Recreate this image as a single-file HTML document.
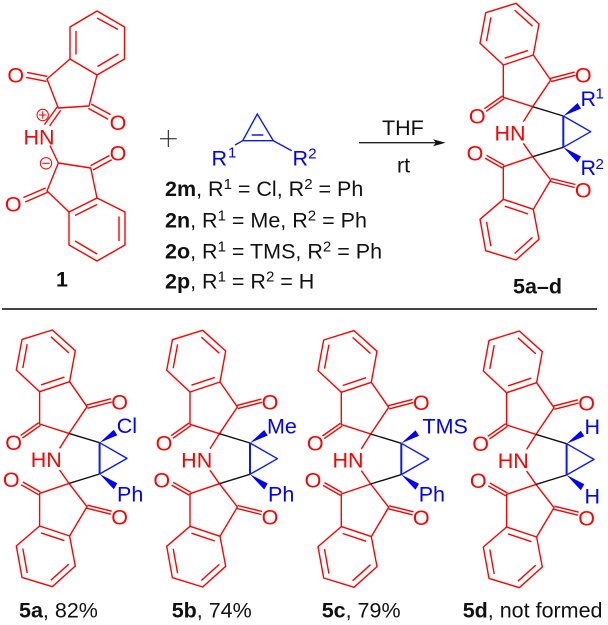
<!DOCTYPE html>
<html><head><meta charset="utf-8">
<style>
html,body{margin:0;padding:0;background:#fff}
svg{display:block}
text{font-family:"Liberation Sans",sans-serif;font-size:21.5px}
.r{fill:#f00}.b{fill:#00f}.k{fill:#111}.bd{font-weight:bold}
.o{fill:#f00;font-size:21.5px;text-anchor:middle}
.s{font-size:15px}
</style></head>
<body>
<svg width="608" height="625" viewBox="0 0 608 625" xmlns="http://www.w3.org/2000/svg">
<defs>
<g id="sk" fill="none" stroke-width="1.4" stroke-linejoin="round">
 <g stroke="#f00">
  <path d="M516 3.3L539 24L533.3 55L503.3 65L480 43.3L485.7 12.7Z"/>
  <path d="M514.6 10.1L532.5 26.2M528.1 50.4L504.7 58.2M486.5 41.3L490.9 17.4"/>
  <path d="M533.3 55L550.7 80L532.7 106.7L503.3 97.3L503.3 65"/>
  <path d="M532.7 106.7L523.3 121.7M523.3 143.3L532.7 156.7"/>
  <path d="M532.7 156.7L550.7 180L533.3 209.3L503.3 199.3L503.3 166.7Z"/>
  <path d="M533.3 209.3L539 239.3L516 260L485.7 250.7L480 219.3L503.3 199.3"/>
  <path d="M528.1 214L504.7 206.2M532.5 237.4L514.6 253.5M490.9 246.3L486.5 221.8"/>
  <path d="M550.3 78.4L574.6 72.1M551.1 81.6L575.4 75.3"/>
  <path d="M502.4 96L484.4 108.7M504.2 98.6L486.2 111.3"/>
  <path d="M504.1 165.3L486.5 155.3M502.5 168.1L484.9 158.1"/>
  <path d="M550.3 181.5L574.6 187.5M551.1 178.5L575.4 184.5"/>
 </g>
 <path stroke="#111" d="M532.7 106.7L563.3 116M532.7 156.7L563.3 147.3"/>
 <path stroke="#0a1aff" d="M563.3 116L590.7 131.7L563.3 147.3"/>
 <path stroke="#0a1aff" stroke-width="2" d="M563.3 116V147.3"/>
 <path stroke="none" fill="#00f" d="M563.3 116L577.5 103L581 108.5ZM563.3 147.3L581 156.5L577.5 162.5Z"/>
</g>
<g id="ol">
 <text class="o" x="583.3" y="82.7">O</text>
 <text class="o" x="477.3" y="123.4">O</text>
 <text class="o" x="475" y="160.4">O</text>
 <text class="o" x="583.3" y="197.7">O</text>
 <text class="o" x="510" y="140.4">HN</text>
</g>
</defs>

<!-- compound 1 -->
<g fill="none" stroke="#f00" stroke-width="1.4" stroke-linejoin="round">
 <path d="M97 11L124.5 27L124.5 59L97 75L70 59L70 27Z"/>
 <path d="M97 18L118 29.5M118.5 54L97.5 66.5M76 54.5L76 31"/>
 <path d="M70 59L47 79L58.3 108L89 106L97 75"/>
 <path d="M27 72.4L47.2 76.4M26.2 77.4L46.6 81.4"/>
 <path d="M91 104L110.6 114.6M88.4 108.4L108 119.2"/>
 <path d="M57.2 107L44.4 124.6M60.6 110.4L49.6 126"/>
 <path d="M50 145.5L58.3 163L90.7 168L97 198L125 212L125 245L97 261L69 245L69 212L47 191L58.3 163"/>
 <path d="M69 212L97 198M75 215.5L97 204.5M119 216.5V241M97 254L75 241"/>
 <path d="M90.5 165.7L109.4 155.5M93 170L111.7 159.7"/>
 <path d="M23.4 197.5L45.6 188M25.2 202L47.4 192.4"/>
</g>
<text class="r" x="23.5" y="144.3">HN</text>
<text class="o" x="15.7" y="82.7">O</text>
<text class="o" x="118" y="130">O</text>
<text class="o" x="118" y="160.4">O</text>
<text class="o" x="13.3" y="211.7">O</text>
<g fill="none" stroke="#f00" stroke-width="1">
 <circle cx="42.7" cy="115" r="5.7"/><path d="M39 115H46.4M42.7 111.3V118.7"/>
 <circle cx="46" cy="163.3" r="5.7"/><path d="M42.3 163.3H49.7"/>
</g>
<text class="k bd" x="56" y="286.7">1</text>

<!-- plus -->
<path d="M160 138.7H176.7M168.3 130V147" stroke="#111" stroke-width="1"/>

<!-- cyclopropene -->
<g fill="none" stroke="#0a1aff" stroke-width="1.4">
 <path d="M257.3 114L242.7 140.7H273.3Z"/>
 <path d="M251.7 135H263.3M242.7 140.7L235 145M273.3 140.7L291.7 150.7"/>
</g>
<text class="b" x="211.5" y="165.7">R</text><text class="b s" x="228" y="157.3">1</text>
<text class="b" x="292.5" y="165.7">R</text><text class="b s" x="308.3" y="158.3">2</text>

<g class="k">
<text class="k" x="165" y="196"><tspan class="bd">2m</tspan>, R<tspan class="s" dy="-7">1</tspan><tspan dy="7"> = Cl, R</tspan><tspan class="s" dy="-7">2</tspan><tspan dy="7"> = Ph</tspan></text>
<text class="k" x="165" y="227.3"><tspan class="bd">2n</tspan>, R<tspan class="s" dy="-7">1</tspan><tspan dy="7"> = Me, R</tspan><tspan class="s" dy="-7">2</tspan><tspan dy="7"> = Ph</tspan></text>
<text class="k" x="165" y="258.3"><tspan class="bd">2o</tspan>, R<tspan class="s" dy="-7">1</tspan><tspan dy="7"> = TMS, R</tspan><tspan class="s" dy="-7">2</tspan><tspan dy="7"> = Ph</tspan></text>
<text class="k" x="165" y="288.3"><tspan class="bd">2p</tspan>, R<tspan class="s" dy="-7">1</tspan><tspan dy="7"> = R</tspan><tspan class="s" dy="-7">2</tspan><tspan dy="7"> = H</tspan></text>
</g>

<!-- arrow -->
<path d="M359 142.7H436" stroke="#222" stroke-width="1.3"/>
<path d="M445.5 142.7L433 139.3L436 142.7L433 146.2Z" fill="#111"/>
<text class="k" x="382" y="135">THF</text>
<text class="k" x="397" y="172.7">rt</text>

<!-- product top -->
<use href="#sk"/><use href="#ol"/>
<text class="b" x="580.5" y="106">R</text><text class="b s" x="595.5" y="98.3">1</text>
<text class="b" x="580.5" y="175">R</text><text class="b s" x="595.5" y="169">2</text>
<text class="k bd" x="513" y="293.3">5a–d</text>

<!-- divider -->
<rect x="2" y="308" width="595" height="2" fill="#444"/>

<!-- 5a -->
<g transform="translate(-463.7 326.7)"><use href="#sk"/><use href="#ol"/></g>
<text class="b" x="116.7" y="433">Cl</text>
<text class="b" x="117" y="501.7">Ph</text>
<text class="k" x="19" y="617.7"><tspan class="bd">5a</tspan>, 82%</text>

<!-- 5b -->
<g transform="translate(-313.3 327)"><use href="#sk"/><use href="#ol"/></g>
<text class="b" x="267" y="433.3">Me</text>
<text class="b" x="268" y="501.7">Ph</text>
<text class="k" x="171.7" y="617.7"><tspan class="bd">5b</tspan>, 74%</text>

<!-- 5c -->
<g transform="translate(-162 327.3)"><use href="#sk"/><use href="#ol"/></g>
<text class="b" x="422.5" y="433.3">TMS</text>
<text class="b" x="418.7" y="501.7">Ph</text>
<text class="k" x="321.7" y="617.7"><tspan class="bd">5c</tspan>, 79%</text>

<!-- 5d -->
<g transform="translate(3.3 327.7)"><use href="#sk"/><use href="#ol"/></g>
<text class="b" x="584.5" y="434">H</text>
<text class="b" x="584.5" y="503.3">H</text>
<text class="k" x="462.7" y="617.7"><tspan class="bd">5d</tspan>, not formed</text>
</svg>
</body></html>
